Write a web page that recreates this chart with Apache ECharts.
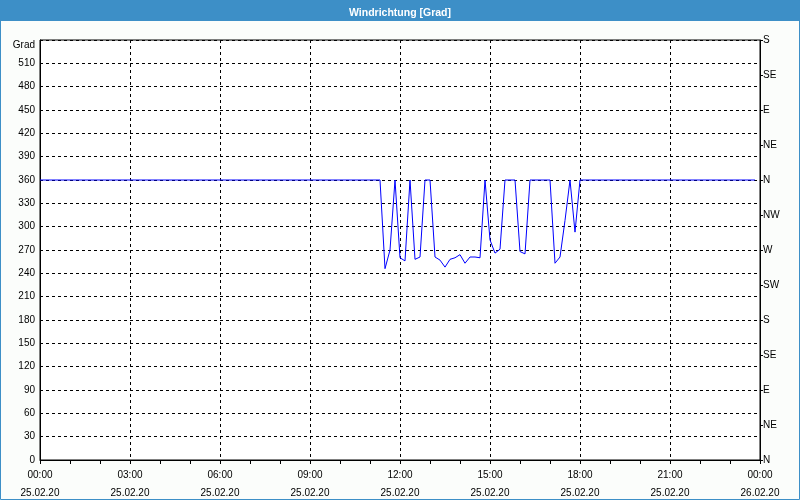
<!DOCTYPE html>
<html>
<head>
<meta charset="utf-8">
<script src="https://cdn.jsdelivr.net/npm/echarts@6/dist/echarts.min.js"></script>
<style>
html,body{margin:0;padding:0;background:#fff;}
#chart{width:800px;height:500px;}
</style>
</head>
<body>
<div id="chart"></div>
<script>
// Sampling: one value every 10 minutes, 00:00 .. 23:50 on 25.02.20
var stepMinutes = 10;
var windDir = [
  360,360,360,360,360,360, // 00
  360,360,360,360,360,360, // 01
  360,360,360,360,360,360, // 02
  360,360,360,360,360,360, // 03
  360,360,360,360,360,360, // 04
  360,360,360,360,360,360, // 05
  360,360,360,360,360,360, // 06
  360,360,360,360,360,360, // 07
  360,360,360,360,360,360, // 08
  360,360,360,360,360,360, // 09
  360,360,360,360,360,360, // 10
  360,360,360,246,270,360, // 11
  260,256,360,258,261,360, // 12
  360,261,257,248,258,260, // 13
  264,253,261,261,260,360, // 14
  283,266,271,360,360,360, // 15
  268,265,360,360,360,360, // 16
  360,253,261,308,360,293, // 17
  360,360,360,360,360,360, // 18
  360,360,360,360,360,360, // 19
  360,360,360,360,360,360, // 20
  360,360,360,360,360,360, // 21
  360,360,360,360,360,360, // 22
  360,360,360,360,360,360  // 23
];
var timeLabels = ['00:00','03:00','06:00','09:00','12:00','15:00','18:00','21:00','00:00'];
var dateLabels = ['25.02.20','25.02.20','25.02.20','25.02.20','25.02.20','25.02.20','25.02.20','25.02.20','26.02.20'];
var compassLabels = ['N','NE','E','SE','S','SW','W','NW','N','NE','E','SE','S'];
var titleText = 'Windrichtung [Grad]';
var unitLabel = 'Grad';

var seriesData = windDir.map(function(v, i){ return [i * stepMinutes / 60, v]; });

var FONT = 'Liberation Sans';
var chart = echarts.init(document.getElementById('chart'), null, {renderer:'canvas'});
chart.setOption({
  backgroundColor: '#fbfdfb',
  animation: false,
  title: {
    text: titleText, left: 'center', top: 3,
    textStyle: {color:'#fff', fontFamily: FONT, fontSize: 10.5, fontWeight: 'bold'}
  },
  graphic: [
    {type:'rect', z:-1, shape:{x:0,y:0,width:800,height:21}, style:{fill:'#3d8fc7'}},
    {type:'rect', z:-1, shape:{x:0.5,y:0.5,width:799,height:499}, style:{fill:null, stroke:'#3d8fc7', lineWidth:1}}
  ],
  grid: {left:40, right:40, top:40, bottom:40, outerBoundsMode:'none', containLabel:false,
         show:true, backgroundColor:'#fff', borderColor:'#000', borderWidth:1},
  xAxis: {
    type:'value', min:0, max:24, interval:3,
    axisLine:{show:true, lineStyle:{color:'#000'}},
    axisTick:{show:true, length:4, lineStyle:{color:'#000'}},
    minorTick:{show:true, splitNumber:3, length:4, lineStyle:{color:'#000'}},
    splitLine:{show:true, lineStyle:{color:'#000', type:[3,3], width:1}},
    axisLabel:{
      color:'#000', fontFamily:FONT, fontSize:10, lineHeight:18, margin:6,
      formatter:function(v){ var k = Math.round(v/3); return timeLabels[k] + '\n' + dateLabels[k]; }
    }
  },
  yAxis: [
    {
      type:'value', min:0, max:540, interval:30, position:'left',
      axisLine:{show:true, lineStyle:{color:'#000'}},
      axisTick:{show:false},
      splitLine:{show:true, lineStyle:{color:'#000', type:[3,3], width:1}},
      axisLabel:{
        color:'#000', fontFamily:FONT, fontSize:10, margin:5,
        formatter:function(v){ return v === 540 ? '{g|' + unitLabel + '}' : String(v); },
        rich:{g:{fontFamily:FONT, fontSize:10, color:'#000', padding:[10,0,0,0]}}
      }
    },
    {
      type:'value', min:0, max:540, interval:45, position:'right',
      axisLine:{show:true, lineStyle:{color:'#000'}},
      axisTick:{show:true, length:3, lineStyle:{color:'#000'}},
      splitLine:{show:false},
      axisLabel:{
        color:'#000', fontFamily:FONT, fontSize:10, margin:3,
        formatter:function(v){ return compassLabels[Math.round(v/45)]; }
      }
    }
  ],
  series: [{
    type:'line', data: seriesData, yAxisIndex:0,
    showSymbol:false, symbol:'none',
    lineStyle:{color:'#0000ff', width:1},
    z:5
  }]
});
</script>
</body>
</html>
